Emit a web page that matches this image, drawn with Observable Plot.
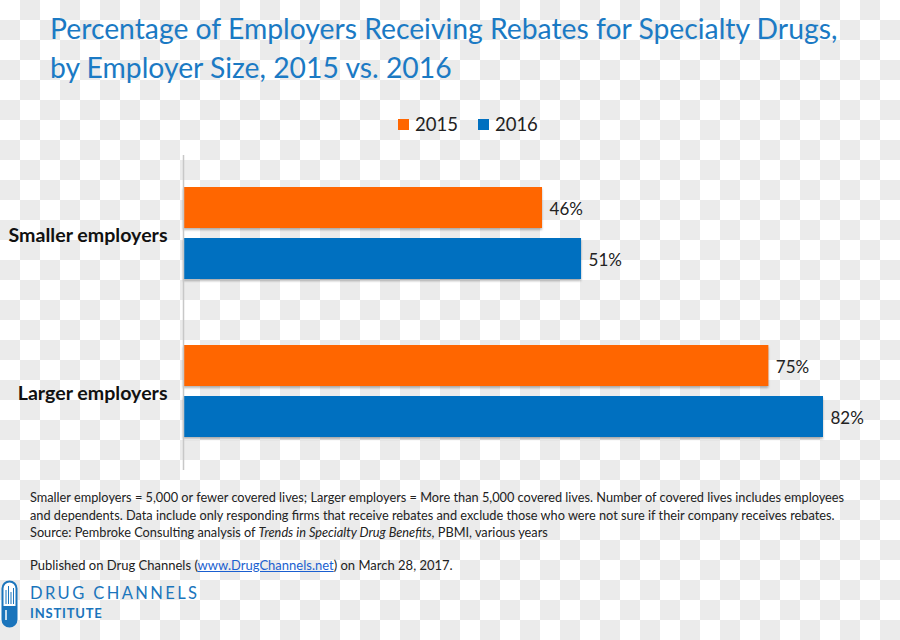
<!DOCTYPE html>
<html>
<head>
<meta charset="utf-8">
<script src="https://cdn.jsdelivr.net/npm/d3@7"></script>
<script src="https://cdn.jsdelivr.net/npm/@observablehq/plot@0.6"></script>
<style>
  html, body { margin: 0; padding: 0; }
  body {
    width: 900px; height: 640px; position: relative; overflow: hidden;
    font-family: Lato, "Open Sans", sans-serif;
    background-color: #ffffff;
    background-image: conic-gradient(#ebebeb 0 25%, #ffffff 0 50%, #ebebeb 0 75%, #ffffff 0);
    background-size: 40px 40px;
  }
  #title { position: absolute; left: 50px; top: 9px; color: #1b7ac4; font-size: 28.3px; line-height: 39px; white-space: nowrap; }
  #legend { position: absolute; left: 398px; top: 113px; font-size: 18.5px; color: #222; display: flex; align-items: center; }
  #legend span.sw { display: inline-block; width: 11px; height: 11px; margin-right: 6px; }
  #legend span.item { display: inline-flex; align-items: center; margin-right: 20px; }
  #chart { position: absolute; left: 0; top: 150px; }
  #notes { position: absolute; left: 30px; top: 489px; width: 835px; font-size: 12.75px; line-height: 17.5px; color: #222; }
  #pub { position: absolute; left: 30px; top: 557px; font-size: 13px; color: #222; }
  #pub a { color: #1a5fd0; text-decoration: underline; }
  #logo1 { position: absolute; left: 30px; top: 583px; font-size: 16.5px; letter-spacing: 2.4px; color: #1b75bc; }
  #logo2 { position: absolute; left: 30px; top: 605px; font-size: 13px; font-weight: bold; letter-spacing: 0.8px; color: #1b75bc; }
  #icon { position: absolute; left: 1px; top: 580px; }
  #chart g[aria-label="bar"] rect { filter: drop-shadow(0px 2px 1px rgba(0,0,0,0.28)); }
</style>
</head>
<body>
<div id="title">Percentage of Employers Receiving Rebates for Specialty Drugs,<br>by Employer Size, 2015 vs. 2016</div>
<div id="legend"></div>
<div id="chart"></div>
<div id="notes">Smaller employers = 5,000 or fewer covered lives; Larger employers = More than 5,000 covered lives. Number of covered lives includes employees and dependents. Data include only responding firms that receive rebates and exclude those who were not sure if their company receives rebates.<br>Source: Pembroke Consulting analysis of <i>Trends in Specialty Drug Benefits</i>, PBMI, various years</div>
<div id="pub">Published on Drug Channels (<a>www.DrugChannels.net</a>) on March 28, 2017.</div>
<svg id="icon" width="18" height="48" viewBox="0 0 18 48">
  <rect x="1.5" y="1.5" width="14" height="45" rx="7" fill="#ffffff" stroke="#1b75bc" stroke-width="2"/>
  <path d="M1.5 26 H15.5 V39.5 A7 7 0 0 1 1.5 39.5 Z" fill="#1b75bc"/>
  <g stroke="#1b75bc" stroke-width="1">
    <line x1="5" y1="24" x2="5" y2="10"/><line x1="7.5" y1="24" x2="7.5" y2="6"/>
    <line x1="10" y1="24" x2="10" y2="12"/><line x1="12.5" y1="24" x2="12.5" y2="8"/>
  </g>
  <line x1="5" y1="30" x2="5" y2="40" stroke="#ffffff" stroke-width="1.5"/>
</svg>
<div id="logo1">DRUG CHANNELS</div>
<div id="logo2">INSTITUTE</div>
<script>
// ---- data ----
const groups = ["Smaller employers", "Larger employers"];
const years = ["2015", "2016"];
const values2015 = [46, 75];
const values2016 = [51, 82];
const colors = ["#ff6600", "#0070c0"];

const rows2015 = groups.map((g, i) => ({group: g, year: years[0], value: values2015[i]}));
const rows2016 = groups.map((g, i) => ({group: g, year: years[1], value: values2016[i]}));

// legend
const legend = document.getElementById("legend");
years.forEach((y, i) => {
  const item = document.createElement("span");
  item.className = "item";
  item.innerHTML = `<span class="sw" style="background:${colors[i]}"></span>${y}`;
  legend.appendChild(item);
});

const chart = Plot.plot({
  width: 900,
  height: 330,
  marginLeft: 183,
  marginRight: 77,
  marginTop: 5,
  marginBottom: 10,
  style: {fontFamily: "Lato, 'Open Sans', sans-serif", background: "transparent", overflow: "visible"},
  x: {domain: [0, 82], axis: null},
  y: {domain: groups, paddingInner: 0.415, paddingOuter: 0.2, label: null},
  marks: [
    Plot.barX(rows2015, {y: "group", x: "value", fill: colors[0], insetBottom: 51}),
    Plot.barX(rows2016, {y: "group", x: "value", fill: colors[1], insetTop: 51}),
    Plot.text(rows2015, {y: "group", x: "value", text: d => d.value + "%", dx: 7, dy: -23.5, textAnchor: "start", fontSize: 17, fill: "#222"}),
    Plot.text(rows2016, {y: "group", x: "value", text: d => d.value + "%", dx: 7, dy: 27.5, textAnchor: "start", fontSize: 17, fill: "#222"}),
    Plot.axisY({tickSize: 0, tickPadding: 16, fontSize: 19.6, fontWeight: "bold", fill: "#111", label: null, dy: 2}),
    Plot.ruleX([0], {stroke: "#c8c8c8", strokeWidth: 1.5})
  ]
});
document.getElementById("chart").appendChild(chart);
</script>
</body>
</html>
